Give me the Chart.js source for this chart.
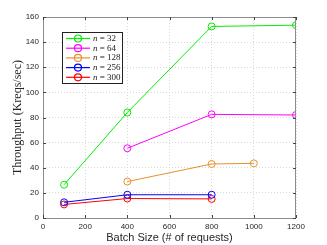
<!DOCTYPE html>
<html>
<head>
<meta charset="utf-8">
<script src="https://cdn.jsdelivr.net/npm/chart.js@4"></script>
<style>
  html, body { margin: 0; padding: 0; background: #fff; }
  #wrap { width: 327px; height: 245px; }
</style>
</head>
<body>
<div id="wrap"><canvas id="tput"></canvas></div>
<script>
// data
const seriesLabels = ['32', '64', '128', '256', '300'];
const seriesColors = ['#00ee00', '#ff00ff', '#e8902a', '#0000ff', '#ff0000'];
const batch32 = [100, 400, 800, 1200];
const tput32 = [26.5, 84, 152.5, 153.5];
const batch64 = [400, 800, 1200];
const tput64 = [55.5, 82.5, 82];
const batch128 = [400, 800, 1000];
const tput128 = [29, 43, 43.5];
const batch256 = [100, 400, 800];
const tput256 = [12.5, 18.5, 18.5];
const batch300 = [100, 400, 800];
const tput300 = [10.8, 15.5, 15.2];
const xTicks = [0, 200, 400, 600, 800, 1000, 1200];
const yTicks = [0, 20, 40, 60, 80, 100, 120, 140, 160];

const batches = [batch32, batch64, batch128, batch256, batch300];
const tputs = [tput32, tput64, tput128, tput256, tput300];

const datasets = seriesLabels.map((lab, i) => ({
    label: lab,
    data: batches[i].map((b, j) => ({x: b, y: tputs[i][j]})),
    borderColor: seriesColors[i],
    backgroundColor: 'rgba(0,0,0,0)',
    borderWidth: 1,
    pointRadius: 3.5,
    pointBorderWidth: 1,
    pointBackgroundColor: 'rgba(0,0,0,0)',
    pointBorderColor: seriesColors[i],
    tension: 0
}));

// box, inward ticks and legend inside plot
const framePlugin = {
    id: 'frame',
    afterDraw(chart) {
        const c = chart.ctx, a = chart.chartArea;
        const xs = chart.scales.x, ys = chart.scales.y;
        c.save();
        c.strokeStyle = '#8c8c8c';
        c.lineWidth = 1;
        c.strokeRect(a.left + 0.5, a.top + 0.5, a.right - a.left - 1, a.bottom - a.top);
        c.strokeStyle = '#444';
        c.beginPath();
        xTicks.forEach(v => {
            const px = Math.round(xs.getPixelForValue(v)) + 0.5;
            c.moveTo(px, a.bottom); c.lineTo(px, a.bottom - 3);
            c.moveTo(px, a.top); c.lineTo(px, a.top + 3);
        });
        yTicks.forEach(v => {
            const py = Math.round(ys.getPixelForValue(v)) + 0.5;
            c.moveTo(a.left, py); c.lineTo(a.left + 3, py);
            c.moveTo(a.right, py); c.lineTo(a.right - 3, py);
        });
        c.stroke();

        // legend
        const lx = 62, ly = 32, lw = 60, lh = 51;
        c.fillStyle = '#fff';
        c.fillRect(lx, ly, lw, lh);
        c.strokeStyle = '#222';
        c.strokeRect(lx + 0.5, ly + 0.5, lw, lh);
        seriesLabels.forEach((lab, i) => {
            const y = ly + 6.5 + i * 9.7;
            c.strokeStyle = seriesColors[i];
            c.lineWidth = 1.2;
            c.beginPath();
            c.moveTo(lx + 4, y); c.lineTo(lx + 28, y);
            c.stroke();
            c.beginPath();
            c.arc(lx + 16, y, 3.5, 0, Math.PI * 2);
            c.stroke();
            c.fillStyle = '#222';
            c.textBaseline = 'middle';
            c.font = 'italic 9px "Liberation Serif"';
            c.fillText('n', lx + 31, y);
            const w = c.measureText('n').width;
            c.font = '9px "Liberation Serif"';
            c.fillText(' = ' + lab, lx + 31 + w, y);
        });
        c.restore();
    }
};

new Chart(document.getElementById('tput'), {
    type: 'line',
    data: {datasets: datasets},
    options: {
        responsive: true,
        maintainAspectRatio: false,
        animation: false,
        layout: {padding: {top: 17, right: 31, left: 0, bottom: 0}},
        plugins: {legend: {display: false}, tooltip: {enabled: false}},
        scales: {
            x: {
                type: 'linear', min: 0, max: 1200,
                afterBuildTicks: s => { s.ticks = xTicks.map(v => ({value: v})); },
                afterFit: s => { s.height = 27; },
                ticks: {font: {family: 'Liberation Sans', size: 8}, color: '#262626', padding: 4, maxRotation: 0, callback: v => String(v)},
                grid: {color: '#d8d8d8', drawTicks: false},
                border: {display: false, dash: [1, 2]},
                title: {display: true, text: 'Batch Size (# of requests)', font: {family: 'Liberation Sans', size: 11}, color: '#262626', padding: {top: 0, bottom: 0}}
            },
            y: {
                min: 0, max: 160,
                afterBuildTicks: s => { s.ticks = yTicks.map(v => ({value: v})); },
                afterFit: s => { s.width = 43; },
                ticks: {font: {family: 'Liberation Sans', size: 8}, color: '#262626', padding: 4, callback: v => String(v)},
                grid: {color: '#d8d8d8', drawTicks: false},
                border: {display: false, dash: [1, 2]},
                title: {display: true, text: 'Throughput (Kreqs/sec)', font: {family: 'Liberation Serif', size: 12}, color: '#262626', padding: {top: 11, bottom: 0}}
            }
        }
    },
    plugins: [framePlugin]
});
</script>
</body>
</html>
